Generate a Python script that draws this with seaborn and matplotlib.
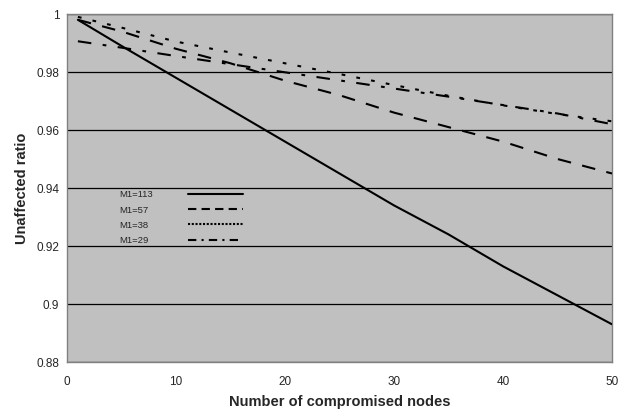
import matplotlib
matplotlib.use("Agg")
import matplotlib.pyplot as plt
from matplotlib.lines import Line2D
from matplotlib.ticker import FuncFormatter
import pandas as pd
import seaborn as sns

# values
nodes = [1, 5, 10, 15, 20, 25, 30, 35, 40, 45, 50]
ratio_113 = [0.998, 0.989, 0.978, 0.967, 0.956, 0.945, 0.934, 0.924, 0.913, 0.903, 0.893]
ratio_57 = [0.998, 0.994, 0.988, 0.983, 0.977, 0.972, 0.966, 0.961, 0.956, 0.950, 0.945]
ratio_38 = [0.999, 0.9953, 0.9905, 0.9867, 0.9830, 0.9793, 0.9755, 0.9718, 0.9685, 0.9655, 0.9630]
ratio_29 = [0.9906, 0.9884, 0.9855, 0.9827, 0.9799, 0.9771, 0.9743, 0.9715, 0.9686, 0.9657, 0.9620]
series_names = ["M1=113", "M1=57", "M1=38", "M1=29"]

frames = []
for name, vals in zip(series_names, [ratio_113, ratio_57, ratio_38, ratio_29]):
    frames.append(pd.DataFrame({"nodes": nodes, "ratio": vals, "series": name}))
df = pd.concat(frames, ignore_index=True)

sns.set_style("white")
plt.rcParams["font.family"] = ["Liberation Sans", "DejaVu Sans"]

fig = plt.figure(figsize=(6.27, 4.12), dpi=100)
ax = fig.add_axes([67 / 627, 1 - 362 / 412, 545 / 627, 348 / 412])
ax.set_facecolor("#c0c0c0")

line_dashes = {
    "M1=113": "",
    "M1=57": (6.5, 5.5),
    "M1=38": (1.8, 5.4),
    "M1=29": (6.5, 5.5, 1.8, 5.5),
}
sns.lineplot(data=df, x="nodes", y="ratio", hue="series", style="series",
             palette=["black"] * 4, dashes=line_dashes, linewidth=1.5,
             legend=False, ax=ax, zorder=3)

ax.set_xlim(0, 50)
ax.set_ylim(0.88, 1.0)
ax.set_xticks(range(0, 51, 10))
ax.set_yticks([0.88, 0.9, 0.92, 0.94, 0.96, 0.98, 1.0])
ax.yaxis.set_major_formatter(FuncFormatter(lambda v, p: f"{v:g}"))
ax.grid(axis="y", color="black", linewidth=0.9)
ax.set_axisbelow(True)
ax.tick_params(direction="inout", length=5, width=0.8, color="#404040",
               labelsize=8.5)
ax.tick_params(axis="x", pad=7.5)
ax.tick_params(axis="y", pad=3)
for s in ax.spines.values():
    s.set_color("#808080")
    s.set_linewidth(1)

ax.set_xlabel("Number of compromised nodes", fontsize=10.5, fontweight="bold")
ax.set_ylabel("Unaffected ratio", fontsize=10.5, fontweight="bold")
ax.xaxis.set_label_coords(0.5, -0.095)
ax.yaxis.set_label_coords(-0.07, 0.5)

# legend: labels on the left, line keys on the right, no frame
leg_kw = dict(loc="upper left", frameon=False, fontsize=6.8, labelspacing=0.65,
              borderpad=0, borderaxespad=0)
blank = [Line2D([], [], linestyle="none")] * 4
label_leg = ax.legend(blank, series_names, bbox_to_anchor=(0.0954, 0.493),
                      handlelength=0, handletextpad=0, **leg_kw)
ax.add_artist(label_leg)

handles = [
    Line2D([], [], color="black", linewidth=1.5),
    Line2D([], [], color="black", linewidth=1.5, dashes=(4, 2.5)),
    Line2D([], [], color="black", linewidth=1.5, dashes=(1, 0.8)),
    Line2D([], [], color="black", linewidth=1.5, dashes=(4, 2.5, 1, 2.5)),
]
ax.legend(handles, [" "] * 4, bbox_to_anchor=(0.222, 0.493),
          handlelength=5.8, handletextpad=0, **leg_kw)

fig.savefig("out.png", dpi=100)
